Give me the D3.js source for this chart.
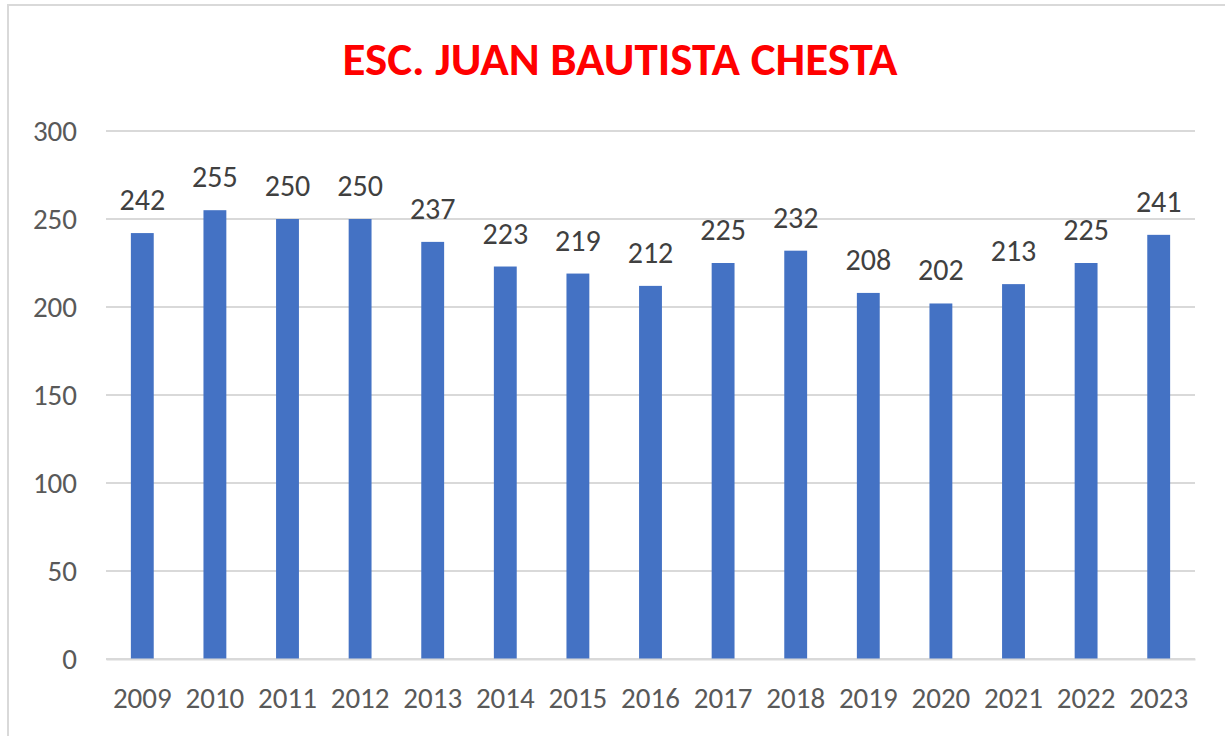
<!DOCTYPE html>
<head>
<meta charset="utf-8">
<style>
  body { margin: 0; background: #fff; }
  text { font-family: Carlito, "Open Sans", "Liberation Sans", sans-serif; }
</style>
</head>
<body>
  <svg width="1225" height="736"></svg>

  <script src="https://d3js.org/d3.v7.min.js"></script>
  <script>
  const years = ['2009', '2010', '2011', '2012', '2013', '2014', '2015', '2016',
    '2017', '2018', '2019', '2020', '2021', '2022', '2023'];
  const values = [242, 255, 250, 250, 237, 223, 219, 212, 225, 232, 208, 202, 213, 225, 241];
  const yTicks = [0, 50, 100, 150, 200, 250, 300];
  const title = 'ESC. JUAN BAUTISTA CHESTA';

  const svg = d3.select('svg');

  // chart frame
  svg.append('rect')
    .attr('x', 8).attr('y', 5)
    .attr('width', 1230).attr('height', 760)
    .attr('fill', '#fff')
    .attr('stroke', '#d9d9d9')
    .attr('stroke-width', 2);

  const plotLeft = 106, plotRight = 1195, plotTop = 131, plotBottom = 659;

  const x = d3.scaleBand()
    .domain(years)
    .range([plotLeft, plotRight])
    .paddingInner(0.685)
    .paddingOuter(0.3425);

  const y = d3.scaleLinear()
    .domain([0, 300])
    .range([plotBottom, plotTop]);

  // gridlines
  svg.append('g')
    .selectAll('line')
    .data(yTicks)
    .join('line')
    .attr('x1', plotLeft).attr('x2', plotRight)
    .attr('y1', d => y(d)).attr('y2', d => y(d))
    .attr('stroke', '#d9d9d9')
    .attr('stroke-width', 2);

  // y axis labels
  const yAxis = svg.append('g')
    .attr('transform', `translate(${plotLeft},0)`)
    .call(d3.axisLeft(y).tickValues(yTicks).tickSize(0).tickPadding(29));
  yAxis.select('.domain').remove();
  yAxis.selectAll('text')
    .attr('fill', '#595959')
    .style('font-size', '29px');

  // bars
  svg.append('g')
    .selectAll('rect')
    .data(values)
    .join('rect')
    .attr('x', (d, i) => x(years[i]))
    .attr('y', d => y(d))
    .attr('width', x.bandwidth())
    .attr('height', d => y(0) - y(d))
    .attr('fill', '#4472c4');

  // value labels
  svg.append('g')
    .selectAll('text')
    .data(values)
    .join('text')
    .attr('x', (d, i) => x(years[i]) + x.bandwidth() / 2)
    .attr('y', d => y(d) - 23)
    .attr('text-anchor', 'middle')
    .attr('fill', '#404040')
    .style('font-size', '30px')
    .text(d => d);

  // x axis
  const xAxis = svg.append('g')
    .attr('transform', `translate(0,${plotBottom})`)
    .call(d3.axisBottom(x).tickSize(0).tickPadding(28));
  xAxis.select('.domain')
    .attr('stroke', '#d9d9d9')
    .attr('stroke-width', 2);
  xAxis.selectAll('text')
    .attr('fill', '#595959')
    .style('font-size', '29px');

  // title
  svg.append('text')
    .attr('x', 620)
    .attr('y', 75)
    .attr('text-anchor', 'middle')
    .attr('fill', '#ff0000')
    .style('font-size', '47px')
    .style('font-weight', 'bold')
    .text(title);
  </script>
</body>
</html>
